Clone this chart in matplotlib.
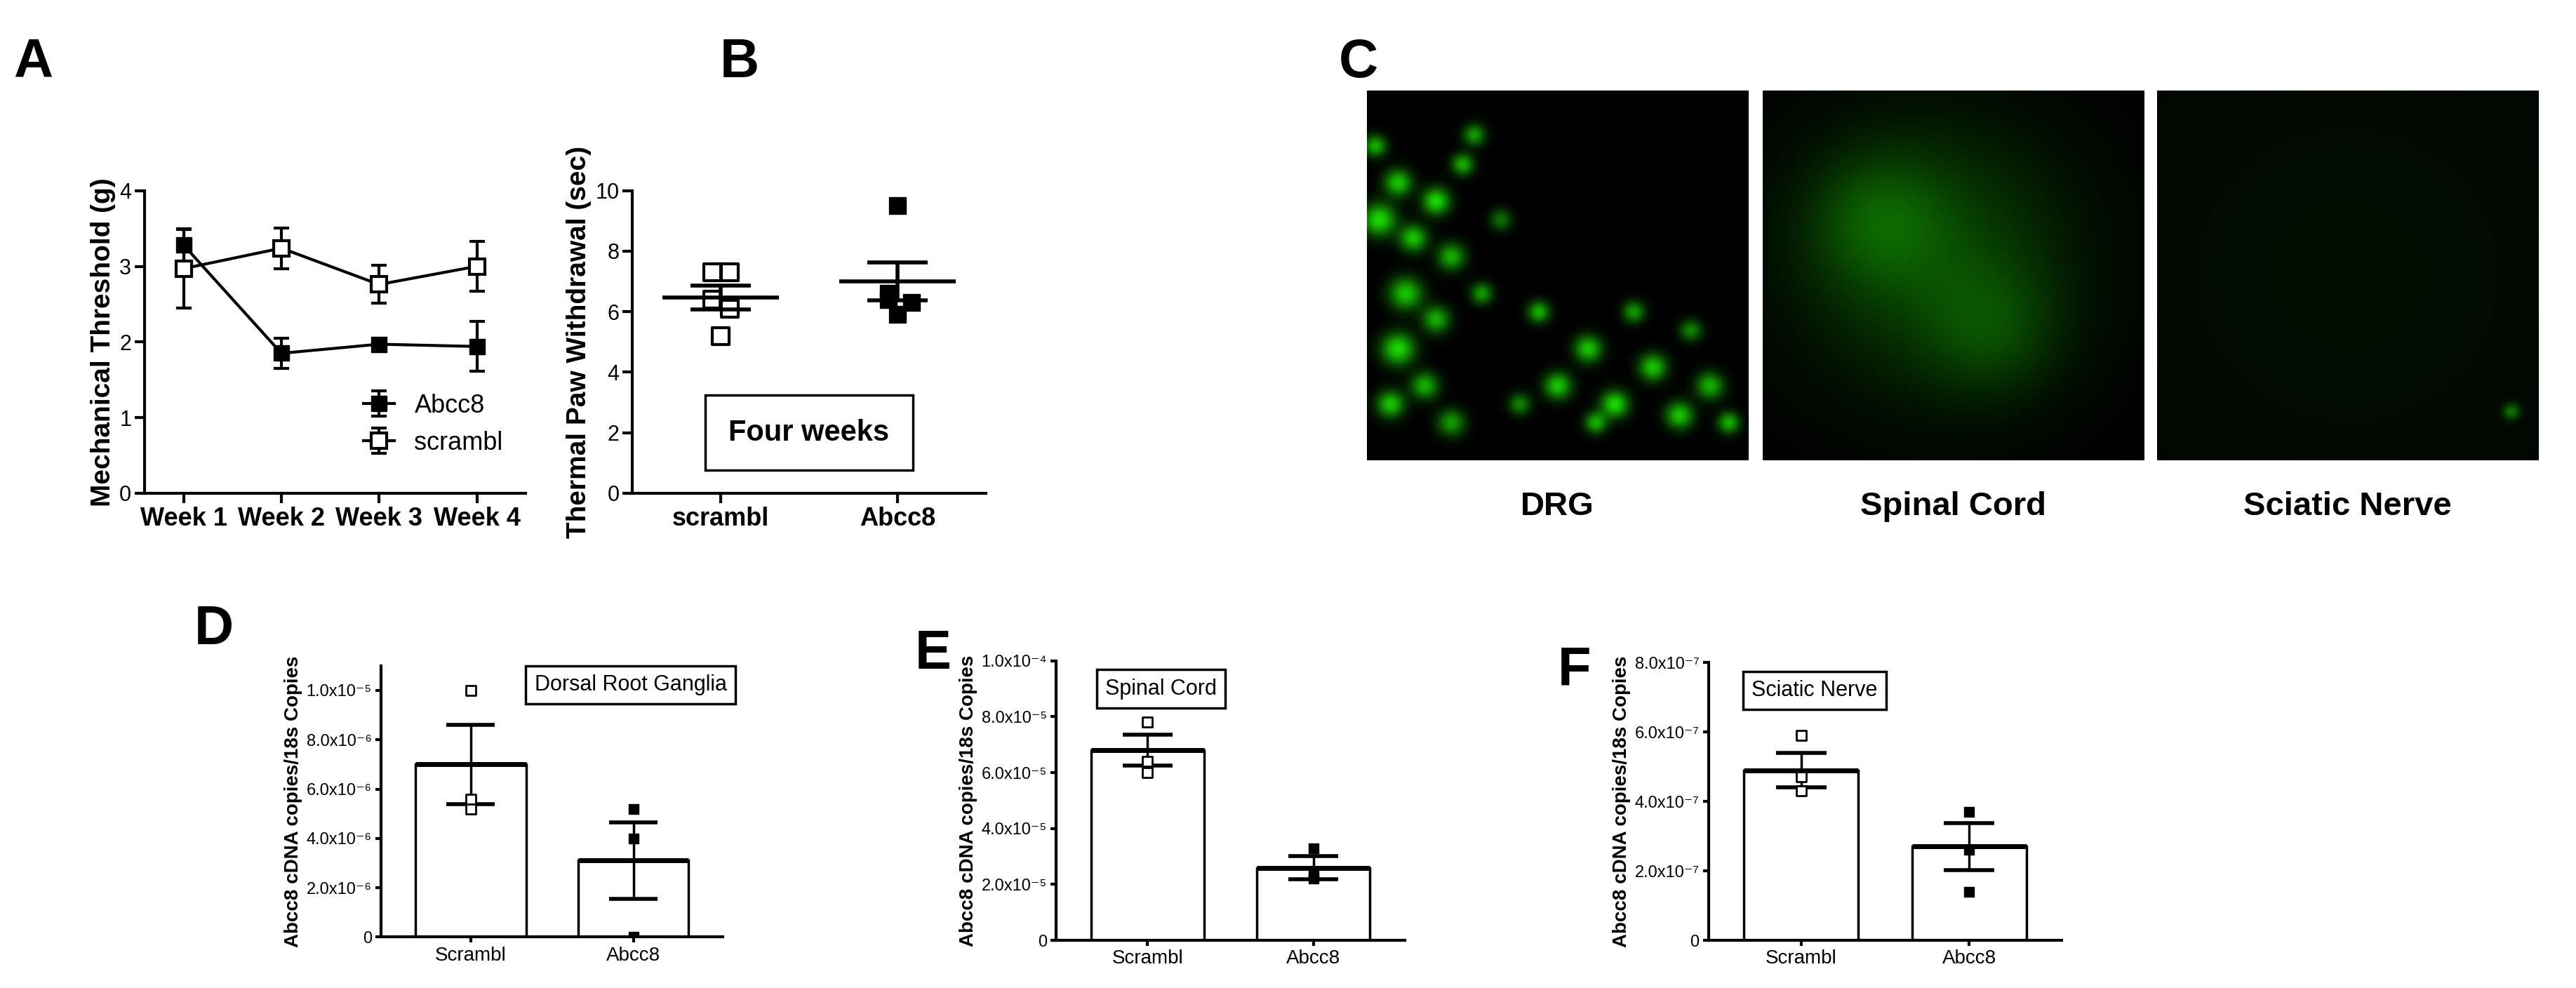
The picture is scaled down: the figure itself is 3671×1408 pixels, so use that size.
import matplotlib
matplotlib.use("Agg")
import matplotlib.pyplot as plt
import numpy as np

plt.rcParams['font.family'] = ['Liberation Sans', 'DejaVu Sans']

weeks = ["Week 1", "Week 2", "Week 3", "Week 4"]
abcc8_mean = [3.28, 1.85, 1.97, 1.94]
abcc8_err = [0.22, 0.2, 0.05, 0.33]
scr_mean = [2.97, 3.24, 2.76, 3.0]
scr_err = [0.52, 0.27, 0.25, 0.33]

b_groups = ["scrambl", "Abcc8"]
b_scr = [7.3, 7.3, 6.4, 6.1, 5.2]
b_abc = [9.5, 6.6, 6.4, 6.3, 5.9]
b_mean = [6.47, 7.0]
b_sem = [0.4, 0.63]

qp_groups = ["Scrambl", "Abcc8"]
d_mean = [7.0e-6, 3.1e-6]; d_sem = [1.6e-6, 1.55e-6]
d_scr = [1.0e-5, 5.6e-6, 5.2e-6]; d_abc = [5.2e-6, 4.0e-6, 0.0]
e_mean = [6.8e-5, 2.6e-5]; e_sem = [0.55e-5, 0.42e-5]
e_scr = [7.8e-5, 6.4e-5, 6.0e-5]; e_abc = [3.3e-5, 2.3e-5, 2.2e-5]
f_mean = [4.9e-7, 2.7e-7]; f_sem = [0.5e-7, 0.68e-7]
f_scr = [5.9e-7, 4.7e-7, 4.3e-7]; f_abc = [3.7e-7, 2.6e-7, 1.4e-7]
c_labels = ["DRG", "Spinal Cord", "Sciatic Nerve"]

W, H = 1568, 601
fig = plt.figure(figsize=(36.71, 14.08), dpi=100)

def ax_at(x0, y0, x1, y1):
    return fig.add_axes([x0 / W, 1 - y1 / H, (x1 - x0) / W, (y1 - y0) / H])

def style(ax):
    for s in ['top', 'right']:
        ax.spines[s].set_visible(False)
    for s in ['left', 'bottom']:
        ax.spines[s].set_linewidth(3)
    ax.tick_params(width=3, length=10, labelsize=22)

def letter(x, y, t):
    fig.text(x / W, 1 - y / H, t, fontsize=56, fontweight='bold', ha='left', va='center')

# A
ax = ax_at(88, 116, 320, 300)
style(ax)
xs = np.arange(1, 5)
ax.errorbar(xs, abcc8_mean, yerr=abcc8_err, color='black', marker='s', ms=16, lw=3,
            capsize=8, capthick=3, elinewidth=3, label='Abcc8')
ax.errorbar(xs, scr_mean, yerr=scr_err, color='black', marker='s', ms=16, lw=3, mfc='white',
            mew=3, capsize=8, capthick=3, elinewidth=3, label='scrambl')
ax.set_xlim(0.6, 4.5); ax.set_ylim(0, 4)
ax.set_xticks(xs); ax.set_xticklabels(weeks, fontsize=26, fontweight='bold')
ax.set_yticks([0, 1, 2, 3, 4])
ax.set_ylabel("Mechanical Threshold (g)", fontsize=28, fontweight='bold')
ax.legend(loc='lower right', frameon=False, fontsize=26, handlelength=1.2, bbox_to_anchor=(1.0, 0.05))
letter(8, 38, "A")

# B
ax = ax_at(385, 116, 600, 300)
style(ax)
ax.scatter(np.full(len(b_scr), 1.0) + np.array([-0.05, 0.05, -0.05, 0.05, 0.0]), b_scr,
           marker='s', s=300, facecolor='white', edgecolor='black', lw=3, zorder=3)
ax.scatter(np.full(len(b_abc), 2.0) + np.array([0.0, -0.05, -0.05, 0.08, 0.0]), b_abc,
           marker='s', s=300, color='black', zorder=3)
for i, (m, s) in enumerate(zip(b_mean, b_sem)):
    ax.hlines(m, i + 1 - 0.33, i + 1 + 0.33, color='black', lw=4, zorder=4)
    ax.hlines([m - s, m + s], i + 1 - 0.17, i + 1 + 0.17, color='black', lw=4, zorder=4)
    ax.vlines(i + 1, m - s, m + s, color='black', lw=4, zorder=4)
ax.set_xlim(0.5, 2.5); ax.set_ylim(0, 10)
ax.set_xticks([1, 2]); ax.set_xticklabels(b_groups, fontsize=26, fontweight='bold')
ax.set_yticks([0, 2, 4, 6, 8, 10])
ax.set_ylabel("Thermal Paw Withdrawal (sec)", fontsize=28, fontweight='bold')
ax.text(1.5, 2.0, "Four weeks", fontsize=30, fontweight='bold', ha='center', va='center',
        bbox=dict(boxstyle='square,pad=0.8', fc='white', ec='black', lw=2.5))
letter(438, 38, "B")

# C
letter(815, 38, "C")
drg_cells = [(0.03, 0.35, 0.03, 1.0), (0.08, 0.25, 0.025, 0.9), (0.12, 0.4, 0.025, 0.9), (0.18, 0.3, 0.025, 1.0),
             (0.22, 0.45, 0.025, 0.8), (0.1, 0.55, 0.03, 0.9), (0.18, 0.62, 0.025, 0.8), (0.08, 0.7, 0.03, 1.0),
             (0.15, 0.8, 0.025, 0.8), (0.25, 0.2, 0.02, 0.8), (0.28, 0.12, 0.02, 0.7), (0.3, 0.55, 0.02, 0.7),
             (0.06, 0.85, 0.025, 0.9), (0.22, 0.9, 0.025, 0.7), (0.45, 0.6, 0.02, 0.8), (0.5, 0.8, 0.025, 0.9),
             (0.58, 0.7, 0.025, 0.9), (0.65, 0.85, 0.025, 1.0), (0.75, 0.75, 0.025, 0.9), (0.82, 0.88, 0.025, 0.9),
             (0.9, 0.8, 0.025, 0.8), (0.7, 0.6, 0.02, 0.7), (0.6, 0.9, 0.02, 0.8), (0.85, 0.65, 0.02, 0.6),
             (0.95, 0.9, 0.02, 0.8), (0.4, 0.85, 0.02, 0.6), (0.02, 0.15, 0.02, 0.8), (0.35, 0.35, 0.02, 0.5)]
blobs = [
    drg_cells,
    [(0.45, 0.45, 0.25, 0.3), (0.3, 0.35, 0.12, 0.25), (0.6, 0.65, 0.12, 0.2)],
    [(0.5, 0.5, 0.5, 0.07), (0.93, 0.87, 0.015, 0.5)],
]
yy, xx = np.mgrid[0:1:240j, 0:1:240j]
for k, (x0, lab) in enumerate(zip([832, 1073, 1313], c_labels)):
    axc = ax_at(x0, 55, x0 + 232, 280)
    g = np.zeros_like(xx)
    for (cx, cy, r, a) in blobs[k]:
        g += a * np.exp(-((xx - cx) ** 2 + (yy - cy) ** 2) / (2 * r ** 2))
    img = np.zeros(xx.shape + (3,))
    img[..., 1] = np.clip(g, 0, 1) * 0.85
    img[..., 0] = np.clip(g, 0, 1) * 0.1
    axc.imshow(img, origin='upper', aspect='auto')
    axc.set_axis_off()
    fig.text((x0 + 116) / W, 1 - 308 / H, lab, fontsize=34, fontweight='bold', ha='center', va='center')

def sup(v):
    return str(v).replace('-', '\u207b').translate(str.maketrans('0123456789', '\u2070\u00b9\u00b2\u00b3\u2074\u2075\u2076\u2077\u2078\u2079'))

def qpcr(box, means, sems, scr, abc, ylim, ticks, tlabels, title, tpos, L, lpos):
    ax = ax_at(*box)
    style(ax)
    ax.tick_params(labelsize=17, length=6)
    xs = [1, 2]
    ax.bar(xs, means, width=0.68, color='white', edgecolor='black', lw=2.5, zorder=1)
    for i, (m, s) in enumerate(zip(means, sems)):
        ax.vlines(xs[i], m - s, m + s, color='black', lw=2.5, zorder=3)
        ax.hlines([m - s, m + s], xs[i] - 0.15, xs[i] + 0.15, color='black', lw=4, zorder=3)
        ax.hlines(m, xs[i] - 0.34, xs[i] + 0.34, color='black', lw=5, zorder=3)
    ax.scatter([1] * len(scr), scr, marker='s', s=90, facecolor='white', edgecolor='black', lw=2, zorder=4)
    ax.scatter([2] * len(abc), abc, marker='s', s=90, color='black', zorder=4)
    ax.set_xlim(0.45, 2.55); ax.set_ylim(*ylim)
    ax.set_xticks(xs); ax.set_xticklabels(qp_groups, fontsize=20)
    ax.set_yticks(ticks); ax.set_yticklabels(tlabels)
    ax.set_ylabel("Abcc8 cDNA copies/18s Copies", fontsize=20, fontweight='bold')
    ax.text(tpos[0], tpos[1], title, transform=ax.transAxes, fontsize=22, ha='center', va='center',
            bbox=dict(boxstyle='square,pad=0.4', fc='white', ec='black', lw=2.5))
    letter(lpos[0], lpos[1], L)

def lab(v, e):
    return "0" if v == 0 else f"{v:.1f}x10{sup(e)}"

qpcr((232, 405, 440, 570), d_mean, d_sem, d_scr, d_abc, (0, 1.1e-5),
     [0, 2e-6, 4e-6, 6e-6, 8e-6, 1e-5],
     ["0", lab(2.0, -6), lab(4.0, -6), lab(6.0, -6), lab(8.0, -6), lab(1.0, -5)],
     "Dorsal Root Ganglia", (0.73, 0.93), "D", (118, 383))
qpcr((643, 402, 855, 572), e_mean, e_sem, e_scr, e_abc, (0, 1.0e-4),
     [0, 2e-5, 4e-5, 6e-5, 8e-5, 1e-4],
     ["0", lab(2.0, -5), lab(4.0, -5), lab(6.0, -5), lab(8.0, -5), lab(1.0, -4)],
     "Spinal Cord", (0.3, 0.9), "E", (557, 398))
qpcr((1040, 403, 1255, 572), f_mean, f_sem, f_scr, f_abc, (0, 8.0e-7),
     [0, 2e-7, 4e-7, 6e-7, 8e-7],
     ["0", lab(2.0, -7), lab(4.0, -7), lab(6.0, -7), lab(8.0, -7)],
     "Sciatic Nerve", (0.3, 0.9), "F", (948, 408))

fig.savefig("out.png", dpi=100)
